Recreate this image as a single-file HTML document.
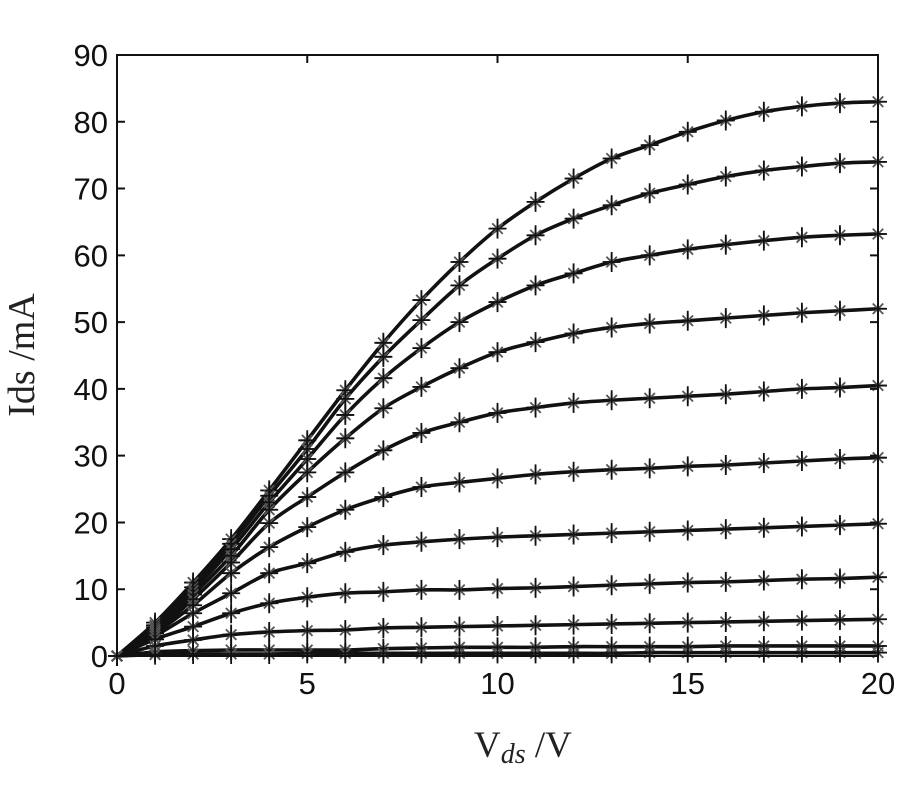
<!DOCTYPE html>
<html><head><meta charset="utf-8"><style>
html,body{margin:0;padding:0;background:#fff;}
svg{display:block;}
</style></head><body>
<svg id="chart" width="900" height="800">
<rect x="0" y="0" width="900" height="800" fill="#fff"/>
<g id="curves"></g>
<g id="axes"></g>
<text x="34" y="355" transform="rotate(-90 34 355)" text-anchor="middle" font-family="Liberation Serif, serif" font-size="38" fill="#222">Ids /mA</text>
<text x="474" y="757" font-family="Liberation Serif, serif" font-size="37" fill="#222">V<tspan font-style="italic" font-size="28" dy="6">ds</tspan><tspan dy="-6"> /V</tspan></text>
</svg>
<script>
const xValues = [0,1,2,3,4,5,6,7,8,9,10,11,12,13,14,15,16,17,18,19,20];
const curve1 = [0,5,11,17.5,24.8,32.3,39.8,46.9,53.3,59,64,68,71.5,74.5,76.5,78.5,80.2,81.5,82.3,82.8,83];
const curve2 = [0,4.6,10.3,16.8,24,31,38.5,44.8,50.3,55.5,59.5,63,65.5,67.5,69.3,70.6,71.8,72.7,73.3,73.8,74];
const curve3 = [0,4.3,9.8,16,23,29.5,36.1,41.6,46.1,50,53,55.5,57.3,59,60,60.9,61.6,62.2,62.7,63,63.2];
const curve4 = [0,4,9.2,15,21.9,27.5,32.6,37.1,40.3,43.1,45.5,47,48.3,49.2,49.8,50.2,50.6,51,51.4,51.7,52];
const curve5 = [0,3.7,8.5,14,19.9,23.8,27.5,30.8,33.4,35,36.4,37.2,37.9,38.3,38.6,38.9,39.2,39.6,40,40.2,40.5];
const curve6 = [0,3.4,7.6,12.4,16.3,19.3,21.9,23.8,25.3,26,26.6,27.2,27.6,27.9,28.1,28.4,28.6,28.9,29.2,29.5,29.7];
const curve7 = [0,3,6.4,9.4,12.4,13.9,15.6,16.6,17.1,17.5,17.8,18,18.2,18.4,18.6,18.8,19,19.2,19.4,19.6,19.8];
const curve8 = [0,2.5,4.4,6.4,7.9,8.8,9.4,9.6,9.9,9.9,10.1,10.2,10.4,10.6,10.8,11,11.1,11.3,11.5,11.6,11.8];
const curve9 = [0,1.5,2.4,3.2,3.6,3.8,3.9,4.2,4.3,4.4,4.5,4.6,4.7,4.8,4.9,5.0,5.1,5.2,5.3,5.4,5.5];
const curve10 = [0,0.6,0.8,0.9,0.9,0.9,0.9,1.1,1.2,1.3,1.3,1.3,1.4,1.4,1.4,1.4,1.5,1.5,1.5,1.5,1.5];
const curve11 = [0,0.2,0.3,0.3,0.3,0.4,0.4,0.4,0.4,0.4,0.4,0.4,0.4,0.4,0.5,0.5,0.5,0.5,0.5,0.5,0.5];
const allCurves = [curve1,curve2,curve3,curve4,curve5,curve6,curve7,curve8,curve9,curve10,curve11];
const xTicks = [0,5,10,15,20];
const yTicks = [0,10,20,30,40,50,60,70,80,90];

const L=117,R=878,T=55,B=656;
const xs=v=>L+(v-0)/20*(R-L);
const ys=v=>B-(v/90)*(B-T);
const NS="http://www.w3.org/2000/svg";
function mk(tag,attrs,parent){const e=document.createElementNS(NS,tag);for(const k in attrs)e.setAttribute(k,attrs[k]);parent.appendChild(e);return e;}
const cg=document.getElementById('curves');
const ag=document.getElementById('axes');

allCurves.forEach((c,ci)=>{
  const pts=c.map((v,i)=>[xs(xValues[i]),ys(v)]);
  let d=`M${pts[0][0]},${pts[0][1]}`;
  for(let i=0;i<pts.length-1;i++){
    const p0=pts[Math.max(0,i-1)],p1=pts[i],p2=pts[i+1],p3=pts[Math.min(pts.length-1,i+2)];
    const c1x=p1[0]+(p2[0]-p0[0])/6,c1y=p1[1]+(p2[1]-p0[1])/6;
    const c2x=p2[0]-(p3[0]-p1[0])/6,c2y=p2[1]-(p3[1]-p1[1])/6;
    d+=` C${c1x},${c1y} ${c2x},${c2y} ${p2[0]},${p2[1]}`;
  }
  const path=mk('path',{d:d,fill:'none',stroke:'#111','stroke-width':3.6},cg);
  
  
  pts.forEach((p,i)=>{
    const g=mk('g',{},cg);
    
    
    const r=7.5;
    mk('path',{d:`M${p[0]-r},${p[1]}H${p[0]+r}M${p[0]},${p[1]-r}V${p[1]+r}M${p[0]-r*0.7},${p[1]-r*0.7}L${p[0]+r*0.7},${p[1]+r*0.7}M${p[0]-r*0.7},${p[1]+r*0.7}L${p[0]+r*0.7},${p[1]-r*0.7}`,stroke:'#555','stroke-width':1.8,fill:'none'},g);
    mk('path',{d:`M${p[0]-9},${p[1]}H${p[0]+9}M${p[0]},${p[1]-10}V${p[1]+10}`,stroke:'#111','stroke-width':1.8,fill:'none'},g);
  });
});

const box=mk('rect',{x:L,y:T,width:R-L,height:B-T,fill:'none',stroke:'#111','stroke-width':2},ag);


xTicks.forEach(v=>{
  const x=xs(v);
  mk('path',{d:`M${x},${B}V${B-8}M${x},${T}V${T+8}`,stroke:'#111','stroke-width':2},ag);
  const t=mk('text',{x:x,y:B+38,'text-anchor':'middle','font-family':'Liberation Sans, sans-serif','font-size':31,fill:'#111'},ag);
  t.textContent=v;
  
  
});
yTicks.forEach(v=>{
  const y=ys(v);
  mk('path',{d:`M${L},${y}H${L+8}M${R},${y}H${R-8}`,stroke:'#111','stroke-width':2},ag);
  const t=mk('text',{x:L-9,y:y+11,'text-anchor':'end','font-family':'Liberation Sans, sans-serif','font-size':31,fill:'#111'},ag);
  t.textContent=v;
  
  
});
</script>
</body></html>
